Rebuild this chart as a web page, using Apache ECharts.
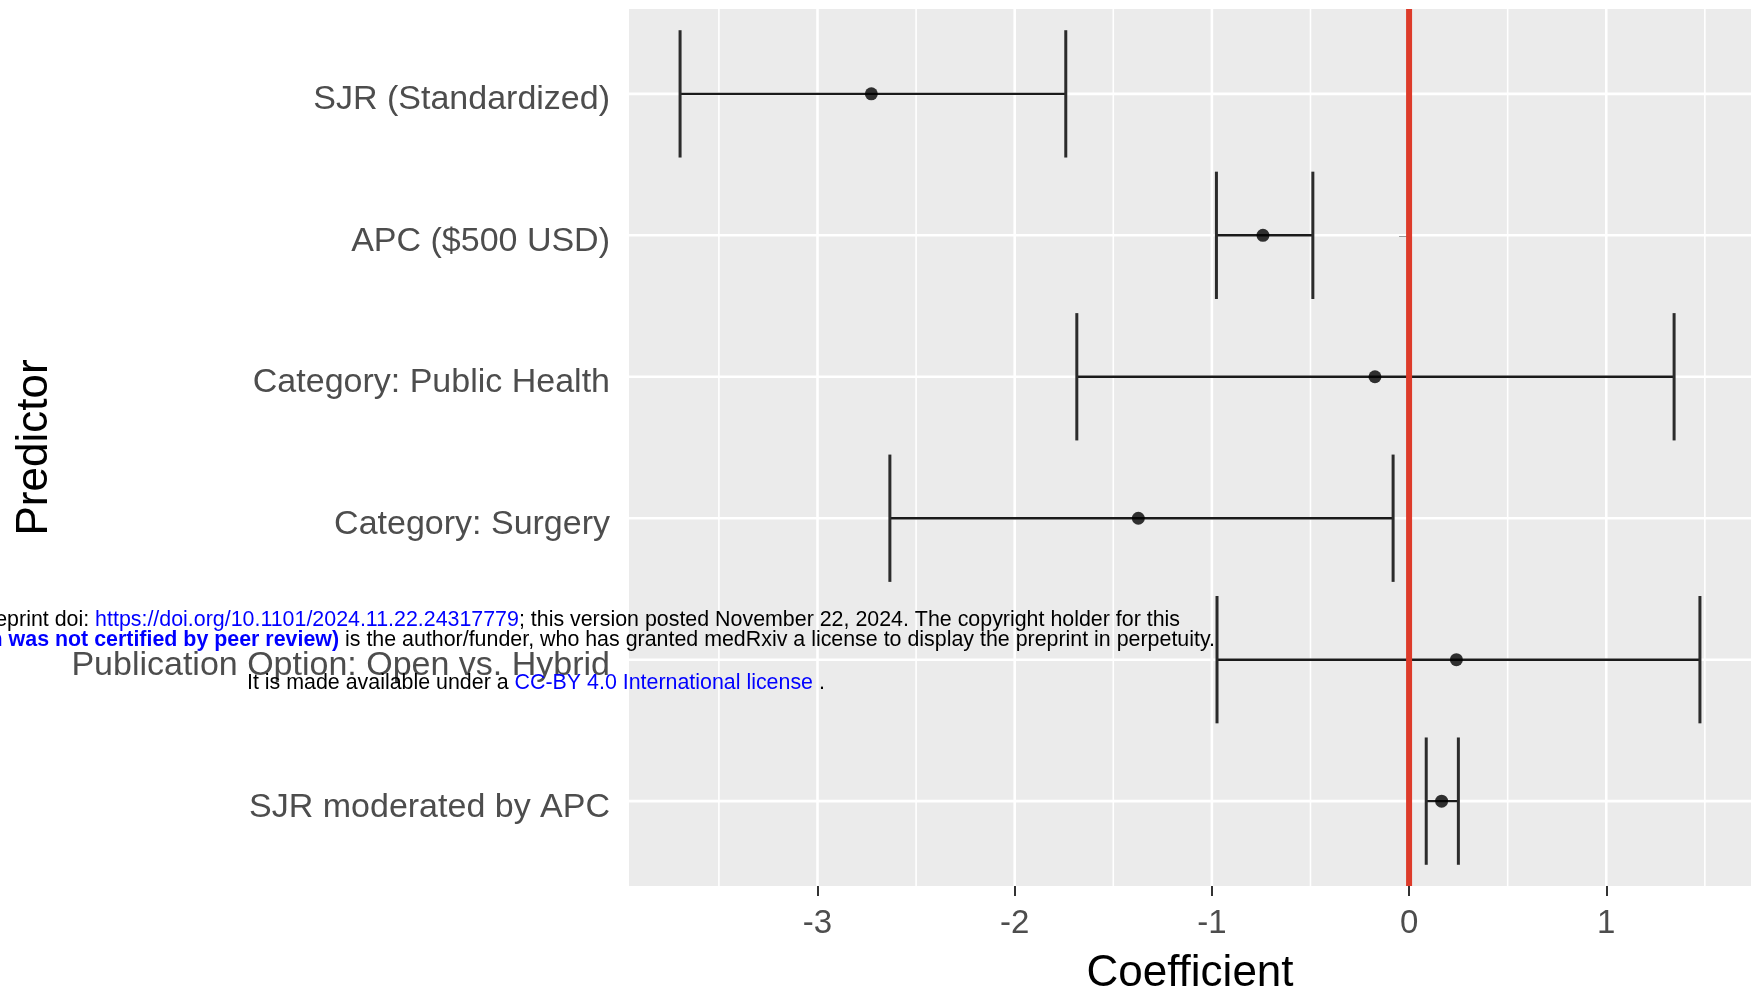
<!DOCTYPE html>
<html><head><meta charset="utf-8">
<script src="https://cdn.jsdelivr.net/npm/echarts@6/dist/echarts.min.js"></script>
<style>html,body{margin:0;padding:0;background:#fff}#c{width:1751px;height:1002px}</style>
</head><body><div id="c"></div>
<script>
// ---- data ----
const predictors = ['SJR (Standardized)', 'APC ($500 USD)', 'Category: Public Health', 'Category: Surgery', 'Publication Option: Open vs. Hybrid', 'SJR moderated by APC'];
const estimates = [-2.727, -0.741, -0.173, -1.373, 0.240, 0.165];
const lowerCI = [-3.697, -0.977, -1.685, -2.633, -0.974, 0.087];
const upperCI = [-1.741, -0.488, 1.344, -0.081, 1.475, 0.250];
const xTickValues = [-3, -2, -1, 0, 1];
const xMinorValues = [-3.5, -2.5, -1.5, -0.5, 0.5, 1.5];
const referenceValue = [0];
const xTitle = 'Coefficient';
const yTitle = 'Predictor';

// ---- derived ----
const yPositions = predictors.map((_, i) => i + 1);
const FONT = '"Liberation Sans", Arial, Helvetica, sans-serif';
const X_MIN = -3.956, X_MAX = 1.734, Y_MIN = 0.4, Y_MAX = 6.6;

const errData = predictors.map((p, i) => [lowerCI[i], estimates[i], upperCI[i], yPositions[i]]);
const pointData = predictors.map((p, i) => [estimates[i], yPositions[i]]);
const vGrid = xTickValues.map(v => [v, 1]).concat(xMinorValues.map(v => [v, 0]));
const hGrid = yPositions.map(v => [v]);

const chart = echarts.init(document.getElementById('c'), null, { renderer: 'canvas' });
chart.setOption({
  animation: false,
  backgroundColor: '#ffffff',
  tooltip: { show: false },
  grid: { left: 629, right: 0, top: 9, bottom: 116, show: true, backgroundColor: '#EBEBEB', borderWidth: 0 },
  xAxis: {
    type: 'value', min: X_MIN, max: X_MAX,
    axisLine: { show: false },
    splitLine: { show: false },
    axisPointer: { show: false },
    axisTick: { show: true, customValues: xTickValues, length: 10, lineStyle: { color: '#333333', width: 2 } },
    axisLabel: { customValues: xTickValues, margin: 21, fontSize: 33, color: '#4D4D4D', fontFamily: FONT },
    name: xTitle, nameLocation: 'middle', nameGap: 66,
    nameTextStyle: { fontSize: 44, color: '#000000', fontFamily: FONT }
  },
  yAxis: {
    type: 'value', min: Y_MIN, max: Y_MAX, inverse: true,
    axisLine: { show: false },
    splitLine: { show: false },
    axisPointer: { show: false },
    axisTick: { show: true, customValues: yPositions, length: 10, lineStyle: { color: '#333333', width: 2 } },
    axisLabel: { customValues: yPositions, margin: 19, color: '#4D4D4D',
      formatter: v => '{l|' + (predictors[Math.round(v) - 1] || '') + '}',
      rich: { l: { fontSize: 34, color: '#4D4D4D', fontFamily: FONT, padding: [12, 0, 0, 0] } } },
    name: yTitle, nameLocation: 'middle', nameGap: 572, nameRotate: 90,
    nameTextStyle: { fontSize: 44, color: '#000000', fontFamily: FONT }
  },
  series: [
    { // vertical grid lines
      type: 'custom', z: 1, silent: true, clip: true,
      data: vGrid,
      renderItem: (params, api) => {
        const v = api.value(0);
        const a = api.coord([v, Y_MIN]), b = api.coord([v, Y_MAX]);
        return { type: 'line', shape: { x1: a[0], y1: a[1], x2: b[0], y2: b[1] },
          style: { stroke: '#FFFFFF', lineWidth: api.value(1) ? 2.6 : 1.6 } };
      }
    },
    { // horizontal grid lines
      type: 'custom', z: 1, silent: true, clip: true,
      data: hGrid,
      renderItem: (params, api) => {
        const v = api.value(0);
        const a = api.coord([X_MIN, v]), b = api.coord([X_MAX, v]);
        return { type: 'line', shape: { x1: a[0], y1: a[1], x2: b[0], y2: b[1] },
          style: { stroke: '#FFFFFF', lineWidth: 2.6 } };
      }
    },
    { // error bars
      type: 'custom', z: 3, silent: true,
      data: errData,
      encode: { x: [0, 2], y: 3 },
      renderItem: (params, api) => {
        const y = api.value(3);
        const lo = api.coord([api.value(0), y]);
        const hi = api.coord([api.value(2), y]);
        const h = api.size([0, 0.9])[1];
        return { type: 'group', children: [
          { type: 'line', shape: { x1: lo[0], y1: lo[1], x2: hi[0], y2: hi[1] }, style: { stroke: '#1A1A1A', lineWidth: 2.4 } },
          { type: 'line', shape: { x1: lo[0], y1: lo[1] - h / 2, x2: lo[0], y2: lo[1] + h / 2 }, style: { stroke: '#2B2B2B', lineWidth: 3 } },
          { type: 'line', shape: { x1: hi[0], y1: hi[1] - h / 2, x2: hi[0], y2: hi[1] + h / 2 }, style: { stroke: '#2B2B2B', lineWidth: 3 } }
        ] };
      }
    },
    { // reference line at zero
      type: 'custom', z: 4, silent: true,
      data: referenceValue.map(v => [v]),
      renderItem: (params, api) => {
        const v = api.value(0);
        const a = api.coord([v, Y_MIN]), b = api.coord([v, Y_MAX]);
        return { type: 'line', shape: { x1: a[0], y1: a[1], x2: b[0], y2: b[1] },
          style: { stroke: '#DD3B2A', lineWidth: 6 } };
      }
    },
    { // point estimates
      type: 'scatter', z: 5, silent: true,
      data: pointData,
      symbol: 'circle', symbolSize: 13,
      itemStyle: { color: '#000000' }
    }
  ],
  graphic: [
    { type: 'text', z: 100, x: 1180, y: 620, style: {
      text: '{k|medRxiv preprint doi: }{u|https://doi.org/10.1101/2024.11.22.24317779}{k|; this version posted November 22, 2024. The copyright holder for this}',
      align: 'right', verticalAlign: 'middle',
      rich: { k: { fontSize: 21.4, fontFamily: FONT, fill: '#000000' }, u: { fontSize: 21.4, fontFamily: FONT, fill: '#0000FF' } } } },
    { type: 'text', z: 100, x: 1215, y: 640, style: {
      text: '{k|preprint }{b|(which was not certified by peer review)}{k| is the author/funder, who has granted medRxiv a license to display the preprint in perpetuity.}',
      align: 'right', verticalAlign: 'middle',
      rich: { k: { fontSize: 21.4, fontFamily: FONT, fill: '#000000' }, b: { fontSize: 21.4, fontFamily: FONT, fontWeight: 'bold', fill: '#0000FF' } } } },
    { type: 'text', z: 100, x: 247, y: 683, style: {
      text: '{k|It is made available under a }{u|CC-BY 4.0 International license}{k| .}',
      align: 'left', verticalAlign: 'middle',
      rich: { k: { fontSize: 21.4, fontFamily: FONT, fill: '#000000' }, u: { fontSize: 21.4, fontFamily: FONT, fill: '#0000FF' } } } }
  ]
});
</script></body></html>
